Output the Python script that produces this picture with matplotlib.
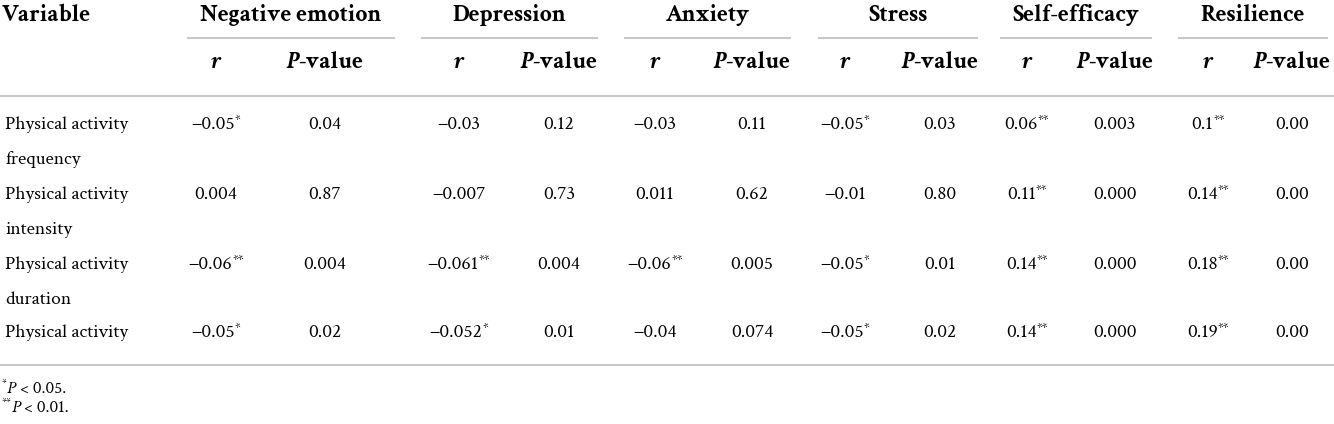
import matplotlib
matplotlib.use("Agg")
import matplotlib.pyplot as plt

plt.rcParams['font.family'] = ['Crimson Text', 'Liberation Serif', 'DejaVu Serif']

# table content
groups = ['Negative emotion', 'Depression', 'Anxiety', 'Stress', 'Self-efficacy', 'Resilience']
variables = [['Physical activity', 'frequency'],
             ['Physical activity', 'intensity'],
             ['Physical activity', 'duration'],
             ['Physical activity']]
r_vals = [['\u22120.05*', '\u22120.03', '\u22120.03', '\u22120.05*', '0.06**', '0.1**'],
          ['0.004', '\u22120.007', '0.011', '\u22120.01', '0.11**', '0.14**'],
          ['\u22120.06**', '\u22120.061**', '\u22120.06**', '\u22120.05*', '0.14**', '0.18**'],
          ['\u22120.05*', '\u22120.052*', '\u22120.04', '\u22120.05*', '0.14**', '0.19**']]
p_vals = [['0.04', '0.12', '0.11', '0.03', '0.003', '0.00'],
          ['0.87', '0.73', '0.62', '0.80', '0.000', '0.00'],
          ['0.004', '0.004', '0.005', '0.01', '0.000', '0.00'],
          ['0.02', '0.01', '0.074', '0.02', '0.000', '0.00']]
footnotes = [('*', 'P', ' < 0.05.'), ('**', 'P', ' < 0.01.')]

# layout (pixel coords)
W, H = 1334, 424
r_x = [216, 459, 655, 845, 1027, 1208]
p_x = [325, 559, 752, 940, 1115, 1292]
span = [(187, 395), (421, 598), (624, 791), (818, 978), (1000, 1152), (1178, 1328)]
row_y = [125, 195, 265, 333]
line_gap = 35
line_col = '#c8c8c8'
fs = 14
hfs = 17
sfs = 9.5

fig = plt.figure(figsize=(W / 100, H / 100), dpi=100)
ax = fig.add_axes([0, 0, 1, 1])
ax.set_xlim(0, W)
ax.set_ylim(H, 0)
ax.axis('off')
rend = fig.canvas.get_renderer()


def runs(x, y, parts, align='center'):
    # parts: list of (string, kwargs, dy); placed side by side
    ts, ws = [], []
    for s, kw, dy in parts:
        t = ax.text(0, y + dy, s, ha='left', va='center', **kw)
        ws.append(t.get_window_extent(rend).width)
        ts.append(t)
    x0 = x - sum(ws) / 2 if align == 'center' else x
    for t, w in zip(ts, ws):
        t.set_x(x0)
        x0 += w


def split_stars(s):
    n = len(s) - len(s.rstrip('*'))
    return s[:len(s) - n], s[len(s) - n:]


def cell(x, y, s):
    num, st = split_stars(s)
    parts = [(num, dict(fontsize=fs), 0)]
    if st:
        parts.append((st, dict(fontsize=sfs), -4))
    runs(x, y, parts)


ax.text(2, 15, 'Variable', fontsize=hfs, fontweight='bold', ha='left', va='center')
for i, g in enumerate(groups):
    a, b = span[i]
    ax.text((a + b) / 2, 15, g, fontsize=hfs, fontweight='bold', ha='center', va='center')
    ax.plot([a, b], [37.5, 37.5], color=line_col, lw=1.5, solid_capstyle='butt')
    ax.text(r_x[i], 62, 'r', fontsize=hfs, fontweight='bold', style='italic',
            ha='center', va='center')
    runs(p_x[i], 62, [('P', dict(fontsize=hfs, fontweight='bold', style='italic'), 0),
                      ('-value', dict(fontsize=hfs, fontweight='bold'), 0)])

ax.plot([0, W], [95.5, 95.5], color=line_col, lw=1.5, solid_capstyle='butt')
ax.plot([0, W], [364.5, 364.5], color=line_col, lw=1.5, solid_capstyle='butt')

for k, y in enumerate(row_y):
    for j, ln in enumerate(variables[k]):
        ax.text(5, y + j * line_gap, ln, fontsize=fs, ha='left', va='center')
    for i in range(len(groups)):
        cell(r_x[i], y, r_vals[k][i])
        cell(p_x[i], y, p_vals[k][i])

for j, (st, p, rest) in enumerate(footnotes):
    runs(2, 389 + j * 19, [(st, dict(fontsize=sfs - 1.5), -4),
                           (p, dict(fontsize=fs - 1.5, style='italic'), 0),
                           (rest, dict(fontsize=fs - 1.5), 0)], align='left')

fig.savefig('out.png', dpi=100)
